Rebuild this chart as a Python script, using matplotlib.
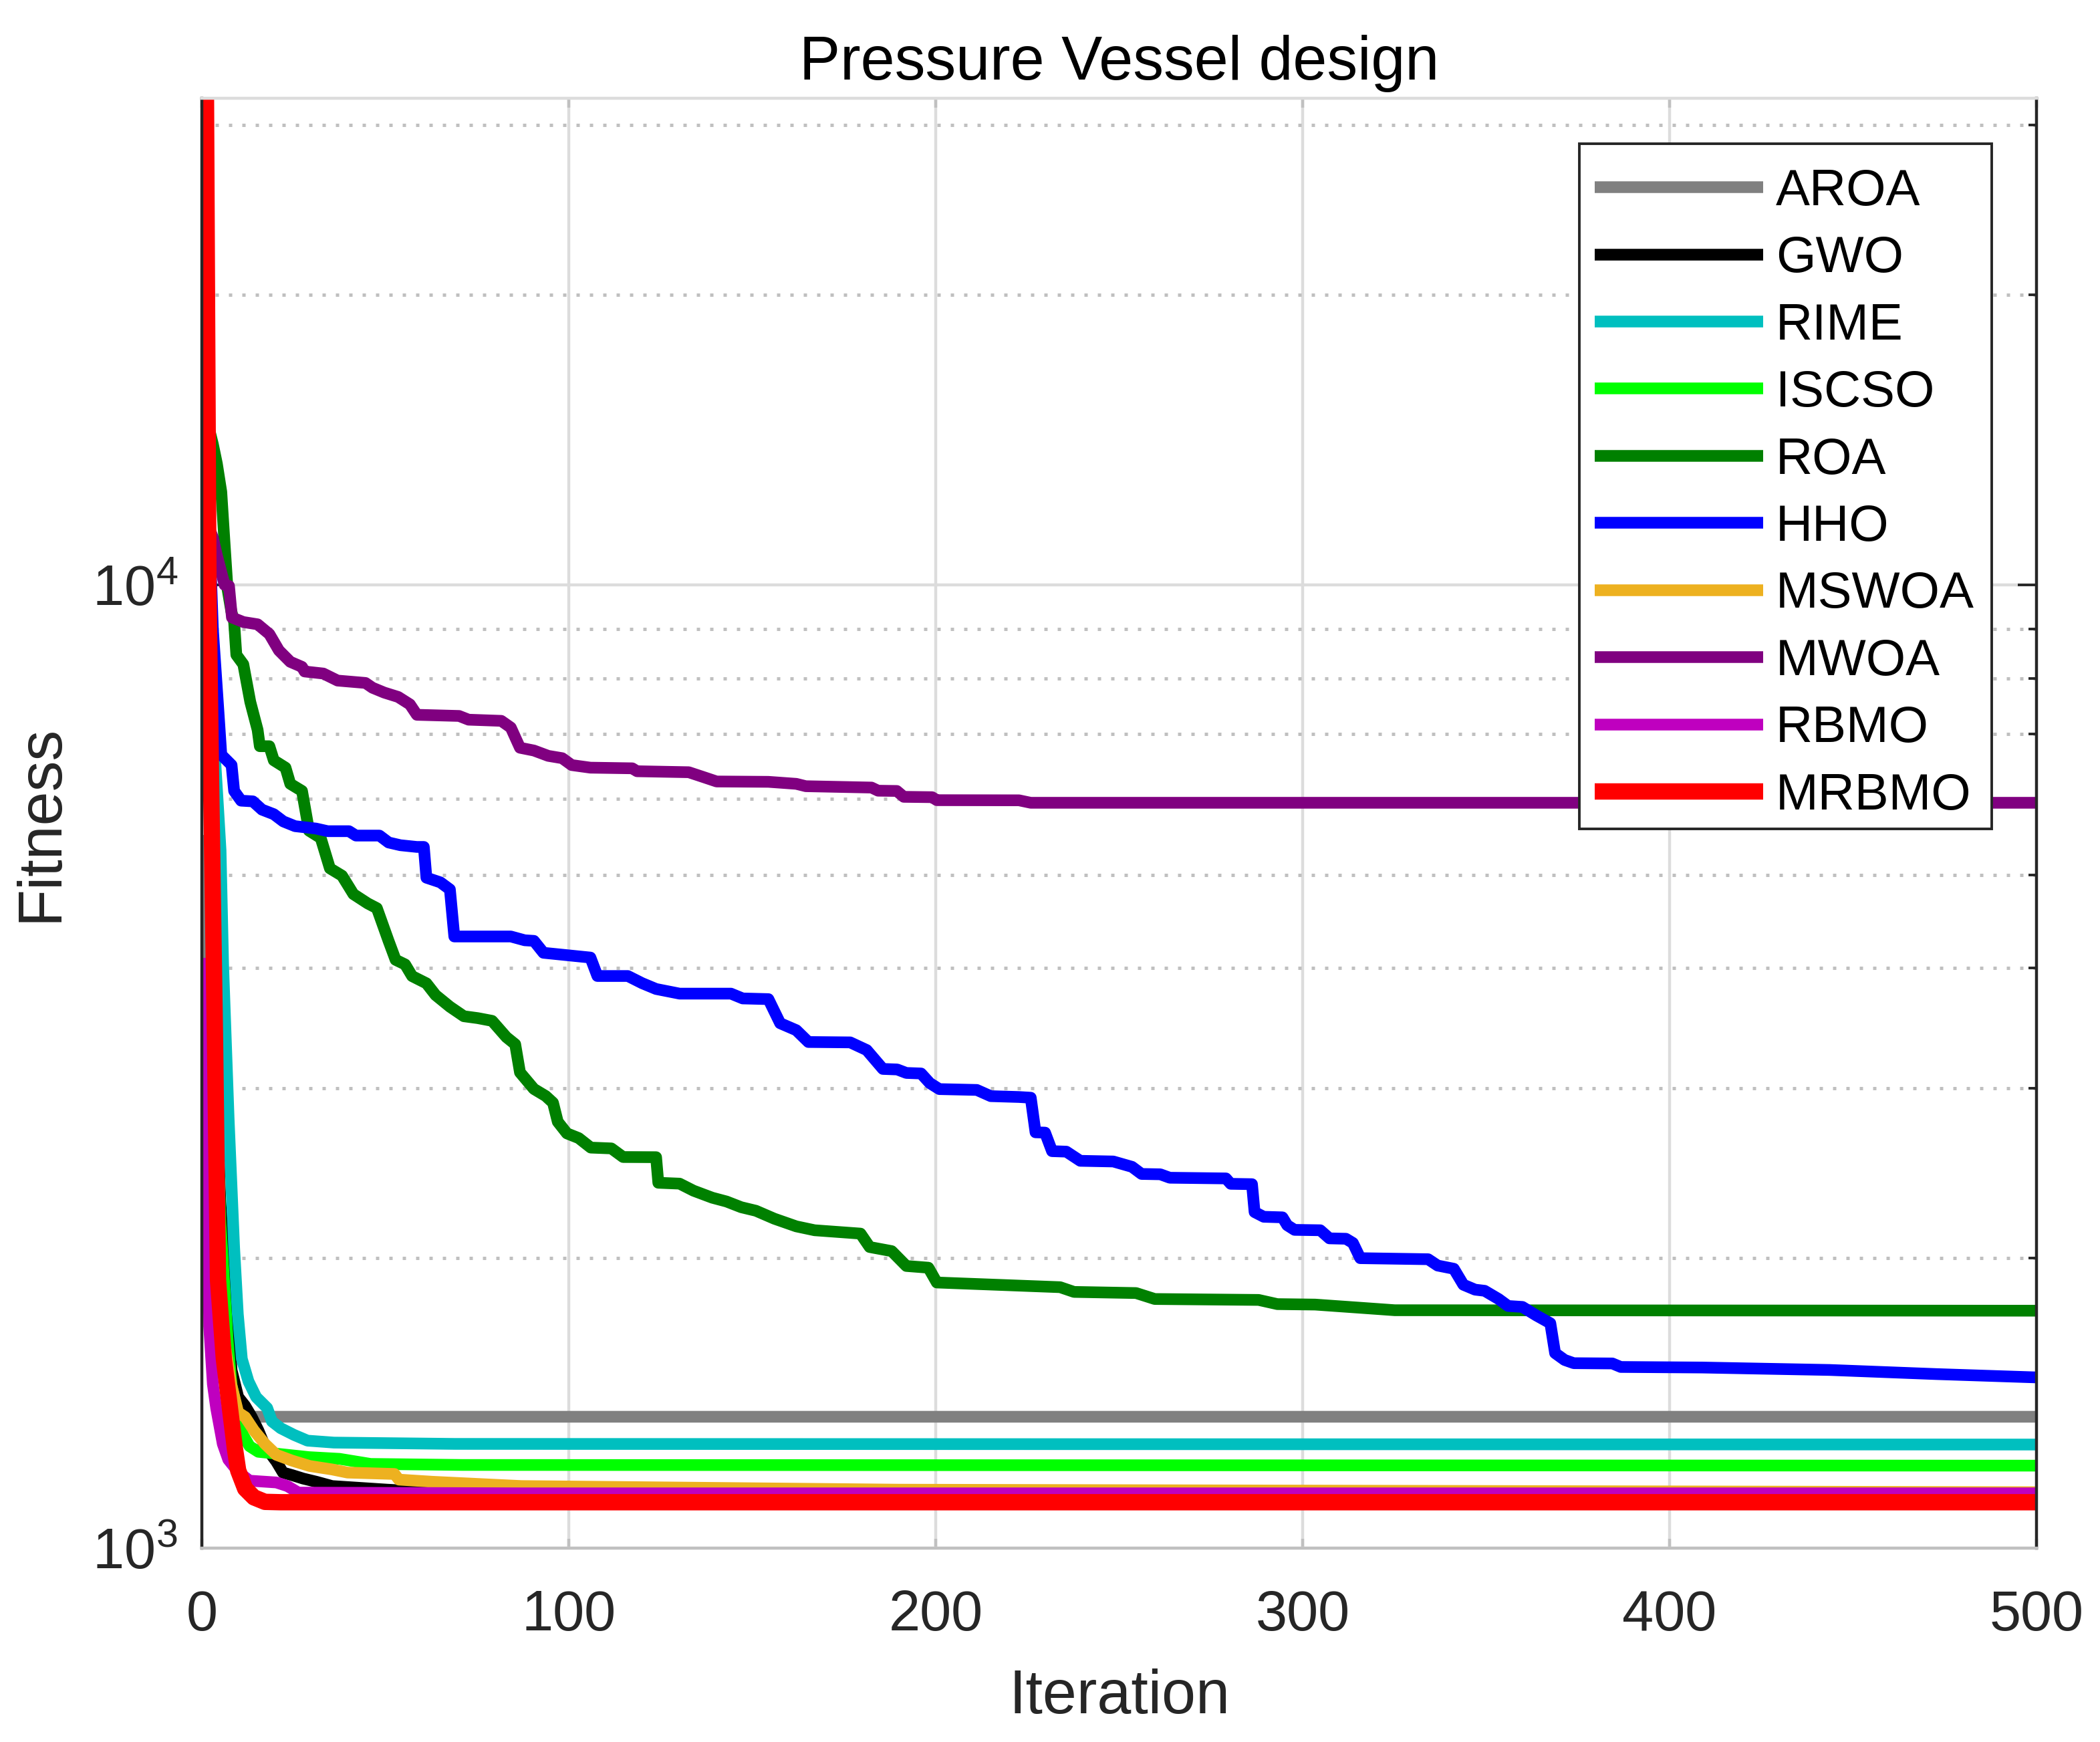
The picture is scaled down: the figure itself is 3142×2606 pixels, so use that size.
import matplotlib
matplotlib.use("Agg")
import matplotlib.pyplot as plt
from matplotlib.patches import Rectangle
from matplotlib.ticker import LogLocator, NullFormatter, FixedLocator

plt.rcParams['font.family'] = ['Liberation Sans', 'DejaVu Sans']
plt.rcParams['mathtext.fontset'] = 'custom'
plt.rcParams['mathtext.rm'] = 'Liberation Sans'
plt.rcParams['mathtext.default'] = 'regular'

# convergence curves (iteration, best fitness) at the corners
aroa_it = [1, 2, 4, 8, 14, 500]
aroa_val = [5500, 2600, 1600, 1420, 1369, 1369]

gwo_it = [1, 2, 3, 5, 6.9, 8.1, 9.9, 11.8, 13.6, 15.4, 17.2, 20.3, 22.1, 24.5,
          27.6, 31.2, 35.5, 50.6, 60, 500]
gwo_val = [13000, 6500, 3800, 2300, 1776, 1530, 1435, 1405, 1368, 1325, 1276, 1230, 1198, 1191,
           1181, 1172, 1160, 1150, 1145, 1138]

rime_it = [1, 2, 3, 4.5, 5.1, 5.8, 7.3, 8.8, 9.8, 10.9, 12.7, 14.8, 17.8, 19.1,
           21.5, 25.1, 28.8, 36, 69, 500]
rime_val = [12000, 9500, 7200, 5800, 5300, 4030, 2790, 2050, 1750, 1572, 1490, 1435, 1398, 1354,
            1332, 1311, 1293, 1287, 1283, 1281]

iscso_it = [1, 2, 3, 5, 7, 8.1, 9.9, 11.2, 13, 15.4, 21.5, 29.2, 37.5, 46, 71, 500]
iscso_val = [15000, 7000, 4000, 2200, 1650, 1474, 1375, 1311, 1276, 1259, 1252, 1243, 1238, 1223,
             1220, 1218]

roa_it = [1, 2, 3, 4.1, 5.3, 6.2, 7, 8, 8.8, 9.4, 11.3, 13.2, 15.2, 15.8, 18.4, 19.6, 22.8,
          24.1, 27.3, 29.2, 32.4, 34.9, 38.2, 41.3, 45.2, 47.7, 50.9, 52.8, 55.4, 57.3,
          61.2, 63.7, 67.6, 71.4, 75.2, 79.1, 83, 85.4, 86.7, 90.5, 93.7, 95.7, 97, 99.5,
          102.7, 106, 111.6, 114.8, 123.8, 124.4, 130.2, 134, 139.1, 143, 147, 151, 156, 162,
          167, 179.5, 182, 188, 192, 198, 200.3, 233.9, 237.7, 254.6, 259.7, 288, 293.1, 303.4,
          316.1, 325.1, 500]
roa_val = [15500, 14500, 14000, 13360, 12490, 11030, 9900, 9400, 9150, 8460, 8270, 7560, 7070,
           6800, 6800, 6575, 6460, 6215, 6110, 5557, 5460, 5078, 4990, 4775, 4670, 4617, 4268,
           4081, 4036, 3925, 3858, 3751, 3648, 3566, 3550, 3527, 3392, 3335, 3118, 2997, 2947,
           2900, 2771, 2695, 2665, 2605, 2600, 2547, 2546, 2395, 2390, 2350, 2311, 2290, 2259,
           2240, 2198, 2158, 2138, 2121, 2054, 2034, 1963, 1955, 1887, 1866, 1845, 1840, 1814,
           1810, 1792, 1790, 1776, 1766, 1764]

hho_it = [1, 2, 3, 4.5, 5.3, 8.1, 8.8, 10.7, 13.9, 16.4, 19.6, 22.2, 25.4, 31.1, 34.3, 40.1,
          42, 48.4, 50.9, 54.1, 58.6, 60.5, 61.2, 65, 67.6, 68.8, 84.2, 88, 90.5, 93.1, 105.9,
          107.8, 116.1, 120, 123.8, 130.2, 144.2, 147.4, 154.4, 157.6, 162, 165.3, 176.7,
          181.2, 185.6, 189.5, 192, 196, 198.4, 201, 211.2, 215, 222.7, 225.9, 227.2, 229.8,
          231.7, 235.6, 239.4, 248.4, 253.5, 256.1, 261.2, 263.8, 279.1, 280.4, 286.2, 286.9,
          289.4, 294.5, 295.8, 297.8, 304.8, 307.3, 311.8, 313.7, 315.7, 334.2, 336.8, 341.2,
          343.8, 347, 349.6, 353.4, 356, 359.9, 363.7, 367.5, 368.8, 371.4, 373.9, 384.4,
          386.7, 408.8, 443.6, 472.7, 500]
hho_val = [16600, 11500, 9000, 7410, 6662, 6500, 6110, 5970, 5960, 5843, 5780, 5681, 5617, 5585,
           5550, 5550, 5492, 5492, 5402, 5367, 5345, 5345, 4966, 4911, 4829, 4315, 4315, 4276,
           4270, 4150, 4103, 3926, 3926, 3859, 3806, 3764, 3764, 3721, 3715, 3507, 3449, 3353,
           3350, 3289, 3144, 3140, 3114, 3110, 3039, 2996, 2990, 2946, 2940, 2935, 2702, 2700,
           2583, 2580, 2524, 2520, 2488, 2446, 2444, 2424, 2420, 2389, 2387, 2233, 2208, 2205,
           2164, 2140, 2138, 2097, 2095, 2074, 2000, 1995, 1965, 1950, 1877, 1855, 1850, 1814,
           1784, 1780, 1744, 1712, 1594, 1568, 1556, 1555, 1542, 1540, 1531, 1516, 1504]

mswoa_it = [1, 2, 4, 6, 8, 9.9, 11.8, 14.2, 17.2, 20.3, 24.5, 29.4, 35.5, 39.7, 52.5, 53.7,
            62.8, 87.1, 190, 500]
mswoa_val = [3500, 2500, 1900, 1650, 1480, 1383, 1368, 1325, 1283, 1250, 1233, 1217, 1207, 1198,
             1194, 1178, 1172, 1160, 1150, 1143]

mwoa_it = [1, 3, 4.1, 6.2, 7.4, 8.2, 11.3, 15.2, 18.4, 21, 24.1, 27.3, 28, 33.1, 37, 44.6,
           46.5, 49.7, 53.5, 56.7, 58.6, 70.1, 72.7, 81.6, 84.2, 86.7, 90.5, 94.4, 98.2, 100.8,
           105.9, 117.3, 118.6, 132.7, 136.5, 140.3, 154.4, 162, 164.6, 182.5, 184.3, 189.4,
           191.3, 199, 200.3, 222.7, 225.9, 500]
mwoa_val = [11700, 11200, 10730, 10000, 9975, 9250, 9150, 9100, 8890, 8550, 8320, 8220, 8130,
            8090, 7955, 7910, 7820, 7730, 7650, 7515, 7330, 7310, 7245, 7225, 7110, 6775, 6730,
            6645, 6608, 6500, 6460, 6450, 6405, 6390, 6320, 6250, 6245, 6215, 6180, 6160, 6114,
            6110, 6025, 6020, 5977, 5975, 5940, 5940]

rbmo_it = [1, 2, 3, 3.9, 5.7, 7.2, 9.9, 13, 20.3, 23.3, 26.3, 87, 500]
rbmo_val = [4100, 1700, 1480, 1398, 1283, 1236, 1200, 1175, 1170, 1160, 1142, 1140, 1140]

mrbmo_it = [1, 1.8, 2.5, 3.6, 4.4, 6, 7.5, 9, 9.9, 11.8, 14.2, 17.2, 21.5, 500]
mrbmo_val = [40000, 10000, 6300, 3350, 1900, 1572, 1413, 1270, 1204, 1153, 1129, 1117, 1116, 1116]

names = ['AROA', 'GWO', 'RIME', 'ISCSO', 'ROA', 'HHO', 'MSWOA', 'MWOA', 'RBMO', 'MRBMO']
colors = ['#808080', '#000000', '#00BFBF', '#00FF00', '#008000', '#0000FF',
          '#EDB120', '#800080', '#BF00BF', '#FF0000']
curves = [(aroa_it, aroa_val), (gwo_it, gwo_val), (rime_it, rime_val), (iscso_it, iscso_val),
          (roa_it, roa_val), (hho_it, hho_val), (mswoa_it, mswoa_val), (mwoa_it, mwoa_val),
          (rbmo_it, rbmo_val), (mrbmo_it, mrbmo_val)]

W, H, DPI = 3142, 2606, 200
fig = plt.figure(figsize=(W / DPI, H / DPI), dpi=DPI)
ax = fig.add_axes([302 / W, 1 - 2316 / H, 2745 / W, 2169 / H])

for name, col, (it, val) in zip(names, colors, curves):
    lw = 8.8 if name == 'MRBMO' else 6.3
    ax.plot(it, val, color=col, lw=lw, label=name, solid_joinstyle='round',
            solid_capstyle='butt')

ax.set_yscale('log')
ax.set_xlim(0, 500)
ax.set_ylim(1000, 32000)
ax.xaxis.set_major_locator(FixedLocator([0, 100, 200, 300, 400, 500]))
ax.yaxis.set_major_locator(LogLocator(base=10, numticks=10))
ax.yaxis.set_minor_locator(LogLocator(base=10, subs=range(2, 10), numticks=20))
ax.yaxis.set_minor_formatter(NullFormatter())

# grid like MATLAB: solid major, dotted minor on y
ax.set_axisbelow(True)
ax.grid(True, which='major', color='#dcdcdc', lw=1.6, ls='-')
ax.yaxis.grid(True, which='minor', color='#c0c0c0', lw=1.8, ls=(0, (1, 3)))

ax.spines['left'].set_color('#262626')
ax.spines['right'].set_color('#262626')
ax.spines['top'].set_color('#dcdcdc')
ax.spines['bottom'].set_color('#c0c0c0')
for s in ax.spines.values():
    s.set_linewidth(1.6)

ax.tick_params(axis='x', which='major', direction='in', top=True, bottom=True,
               length=5, width=1.6, color='#c0c0c0', labelcolor='#262626',
               labelsize=30.5, pad=22)
ax.tick_params(axis='y', which='major', direction='in', left=True, right=True,
               length=10, width=1.4, color='#262626', labelcolor='#262626',
               labelsize=30.5, pad=13)
ax.tick_params(axis='y', which='minor', direction='in', left=True, right=True,
               length=4.5, width=1.4, color='#262626')

ax.set_title('Pressure Vessel design', fontsize=33, color='#000000', pad=10)
ax.set_xlabel('Iteration', fontsize=33, color='#262626', labelpad=14)
ax.set_ylabel('Fitness', fontsize=33, color='#262626', labelpad=12)

# legend frame drawn separately so the rows sit where they do in the original
box = Rectangle((2363 / W, 1 - 1240 / H), (2980 - 2363) / W, (1240 - 215) / H,
                transform=fig.transFigure, facecolor='white', edgecolor='#262626',
                lw=1.4, zorder=4.9, clip_on=False)
ax.add_patch(box)
leg = ax.legend(loc='upper right', bbox_to_anchor=(2980 / W, 1 - 226 / H),
                bbox_transform=fig.transFigure, borderaxespad=0, fontsize=27.5,
                handlelength=3.3, handletextpad=0.25, borderpad=0.34, labelspacing=0.385,
                frameon=False)

fig.savefig('out.png', dpi=DPI)
